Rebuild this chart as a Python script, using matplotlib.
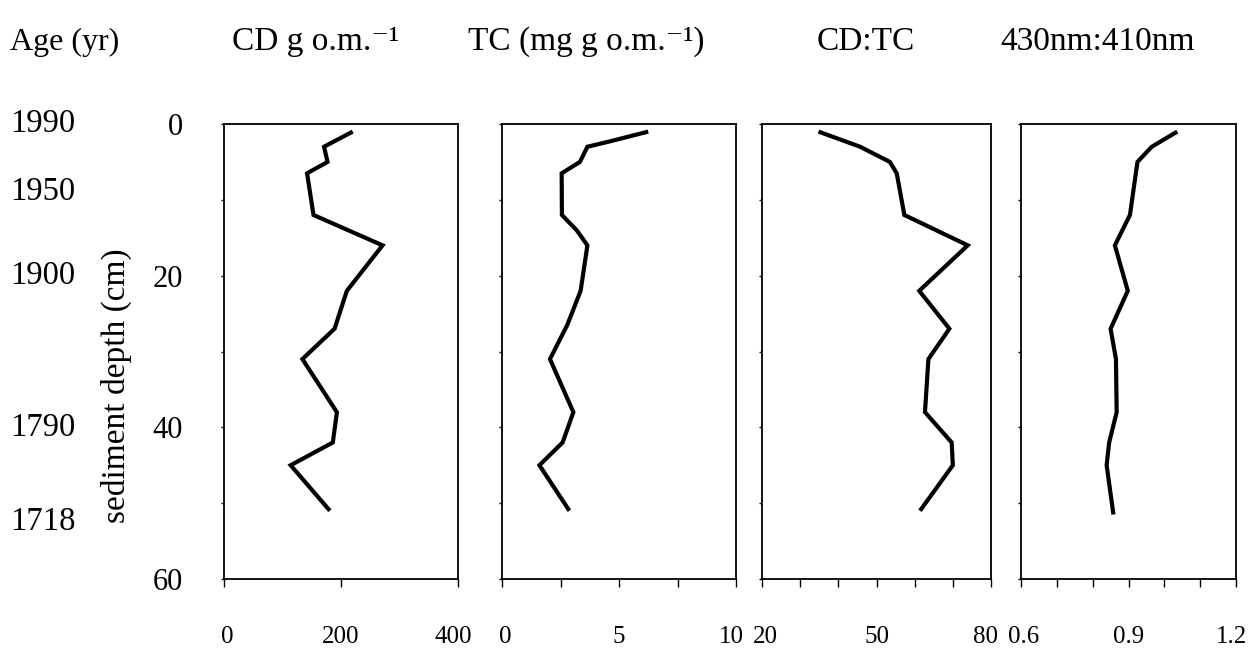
import matplotlib
matplotlib.use("Agg")
import matplotlib.pyplot as plt
import matplotlib.transforms as mtransforms
from matplotlib.ticker import MultipleLocator

plt.rcParams["font.family"] = ["Liberation Serif", "DejaVu Serif"]

# depth (cm) of each sample
depth = [1, 3, 5, 6.5, 12, 16, 22, 27, 31, 38, 42, 45, 51]
depth_tc = [1, 2.3, 3, 5, 6.5, 12, 14, 16, 22, 26.5, 31, 38, 42, 45, 51]
depth_ratio = [1, 3, 5, 12, 16, 22, 27, 31, 38, 42, 45, 51.5]

cd = [220, 171, 177, 142, 153, 271, 210, 189, 134, 193, 186, 114, 181]
tc = [6.25, 4.6, 3.65, 3.33, 2.55, 2.56, 3.19, 3.65, 3.36, 2.79, 2.05, 3.05, 2.59, 1.6, 2.88]
cd_tc = [34.8, 45.7, 53.5, 55.3, 57.3, 73.9, 61.2, 69.1, 63.6, 62.7, 69.7, 70.0, 61.4]
abs_ratio = [1.036, 0.965, 0.925, 0.904, 0.862, 0.898, 0.85, 0.865, 0.867, 0.846, 0.839, 0.858]

age_labels = ["1990", "1950", "1900", "1790", "1718"]
age_depths = [0, 9, 20, 40, 52.5]

titles = ["CD g o.m.\u207b\u00b9", "TC (mg g o.m.\u207b\u00b9)", "CD:TC", "430nm:410nm"]
title_x = [232, 468, 817, 1000]

W, H = 1256, 661
fig = plt.figure(figsize=(W / 100, H / 100), dpi=100)

# panel boxes in pixels: left, width
boxes = [(224, 234), (502, 234), (762, 229), (1021, 215)]
top, bottom = 124, 579

panels = [
    (cd, depth, (0, 400), [0, 200, 400], 200),
    (tc, depth_tc, (0, 10), [0, 5, 10], 2.5),
    (cd_tc, depth, (20, 80), [20, 50, 80], 10),
    (abs_ratio, depth_ratio, (0.6, 1.2), [0.6, 0.9, 1.2], 0.1),
]

axes = []
for i, ((x, y, xlim, xt, xminor), (l, w)) in enumerate(zip(panels, boxes)):
    ax = fig.add_axes([l / W, (H - bottom) / H, w / W, (bottom - top) / H])
    ax.plot(x, y, color="black", lw=3, solid_joinstyle="miter", solid_capstyle="butt")
    ax.set_xlim(*xlim)
    ax.set_ylim(60, 0)
    ax.set_xticks(xt)
    ax.set_xticklabels([f"{v:g}" for v in xt])
    ax.xaxis.set_minor_locator(MultipleLocator(xminor))
    ax.set_yticks([0, 20, 40, 60])
    ax.yaxis.set_minor_locator(MultipleLocator(10))
    ax.tick_params(axis="x", which="both", direction="out", length=6, width=1,
                   pad=28, labelsize=18)
    ax.tick_params(axis="y", which="both", direction="out", length=2.5, width=1,
                   pad=27, labelsize=22)
    if i > 0:
        ax.tick_params(axis="y", labelleft=False)
    for s in ax.spines.values():
        s.set_linewidth(1.3)
    # nudge the end labels inward a little so neighbouring panels don't touch
    labs = ax.get_xticklabels()
    labs[0].set_transform(labs[0].get_transform()
                          + mtransforms.ScaledTranslation(3 / 100, 0, fig.dpi_scale_trans))
    labs[-1].set_transform(labs[-1].get_transform()
                           + mtransforms.ScaledTranslation(-5 / 100, 0, fig.dpi_scale_trans))
    axes.append(ax)

# age scale on the far left
trans = mtransforms.blended_transform_factory(fig.transFigure, axes[0].transData)
for lab, d in zip(age_labels, age_depths):
    fig.text(10 / W, d, lab, transform=trans, ha="left", va="center", fontsize=23.5)

fig.text(116 / W, 1 - 386 / H, "sediment depth (cm)", rotation=90,
         ha="center", va="center", fontsize=24)

fig.text(10 / W, 1 - 42 / H, "Age (yr)", ha="left", va="center", fontsize=23)
for t, tx in zip(titles, title_x):
    fig.text(tx / W, 1 - 42 / H, t, ha="left", va="center", fontsize=24)

fig.savefig("out.png", dpi=100)
